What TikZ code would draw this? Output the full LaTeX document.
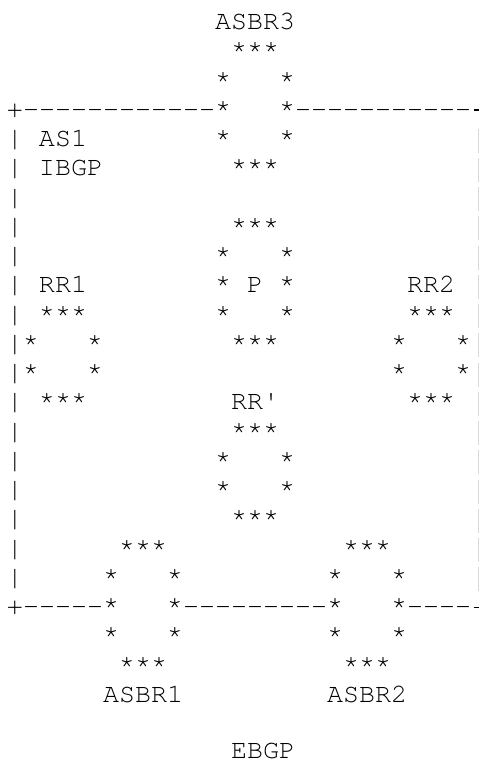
\documentclass[tikz,border=0pt]{standalone}
\usepackage{fontspec}
\setmonofont{TeX Gyre Cursor}
\begin{document}
% typewriter text in fixed 16pt character cells
\newcommand\cells[1]{\cellsnext#1\relax}
\def\cellsnext#1{\ifx#1\relax\else\makebox[16pt][c]{#1}\expandafter\cellsnext\fi}
\newcommand\ttsize{\ttfamily\fontsize{26.67pt}{29.25pt}\selectfont}
\newlength\hyphtop
\settoheight{\hyphtop}{\ttsize -}
\begin{tikzpicture}[
  x=16pt, y=-29.25pt,
  txt/.style={anchor=base west, inner sep=0pt, outer sep=0pt, font=\ttsize},
  rim/.style={line width=1.3pt, line cap=butt},
  faint/.style={gray!30, line width=1pt}
]
% page frame: one character cell is 16pt wide, one line is 29.25pt high
\useasboundingbox (-7pt,29.6pt) rectangle (472pt,-734.4pt);

% a router drawn as a ring of asterisks:
% #1 name, #2 left column, #3 top row, #4 number of side rows
\newcommand\router[4]{%
  \node[txt] (#1-top) at ({#2+1},{#3}) {\cells{***}};
  \foreach \k in {1,...,#4} {
    \node[txt] (#1-l\k) at ({#2},{#3+\k}) {\cells{*}};
    \node[txt] (#1-r\k) at ({#2+4},{#3+\k}) {\cells{*}};
  }
  \node[txt] (#1-bot) at ({#2+1},{#3+#4+1}) {\cells{***}};
}

% AS1 boundary
\node[txt] (edge-tl) at (0,3) {\cells{+------------}};
\node[txt] (edge-tr) at (18,3) {\cells{-----------}};
\node[txt] (edge-bl) at (0,20) {\cells{+-----}};
\node[txt] (edge-bm) at (11,20) {\cells{---------}};
\node[txt] (edge-br) at (25,20) {\cells{----}};
\foreach \r in {4,...,19} {
  \node[txt] (side-l\r) at (0,\r) {\cells{|}};
}
% right-hand side of the boundary, at the very edge of the page
\coordinate (stub-t) at (29,3);
\coordinate (stub-b) at (29,20);
\draw[rim] ([xshift=2.5pt,yshift=\hyphtop-0.65pt]stub-t) -- ++(7pt,0);
\draw[rim] ([xshift=2.5pt,yshift=\hyphtop-0.65pt]stub-b) -- ++(7pt,0);
\foreach \r in {4,...,19} {
  \coordinate (side-r\r) at (29,\r);
  \draw[faint] ([xshift=7.6pt,yshift=-6pt]side-r\r) -- ++(0,24pt);
}

% routers
\router{asbr3}{13}{1}{3}
\router{p}{13}{7}{3}
\router{rr1}{1}{10}{2}
\router{rr2}{24}{10}{2}
\router{rrx}{13}{14}{2}
\router{asbr1}{6}{18}{3}
\router{asbr2}{20}{18}{3}

% labels
\node[txt] (l-asbr3) at (13,0) {\cells{ASBR3}};
\node[txt] (l-as1) at (2,4) {\cells{AS1}};
\node[txt] (l-ibgp) at (2,5) {\cells{IBGP}};
\node[txt] (l-rr1) at (2,9) {\cells{RR1}};
\node[txt] (l-p) at (15,9) {\cells{P}};
\node[txt] (l-rr2) at (25,9) {\cells{RR2}};
\node[txt] (l-rrx) at (14,13) {\cells{RR'}};
\node[txt] (l-asbr1) at (6,23) {\cells{ASBR1}};
\node[txt] (l-asbr2) at (20,23) {\cells{ASBR2}};
\node[txt] (l-ebgp) at (14,24.93) {\cells{EBGP}};
\end{tikzpicture}
\end{document}
